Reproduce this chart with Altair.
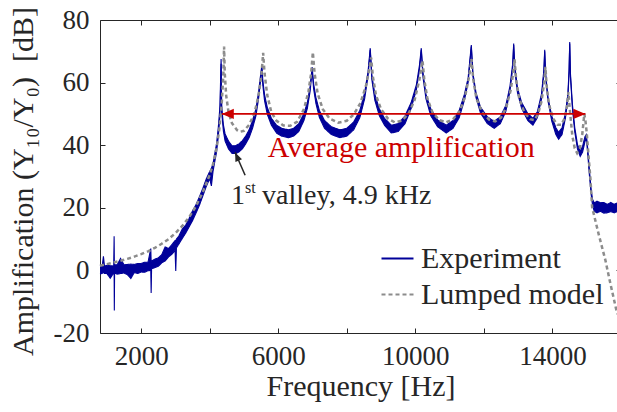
import altair as alt
import pandas as pd

FONT = "Liberation Serif"
TXT = "#262626"
NAVY = "#000099"
GRAY = "#8c8c8c"
RED = "#cc0000"

# ---------------- data ----------------
exp_freq = [800, 870, 900, 930, 1000, 1100, 1200, 1212, 1218, 1226,
            1300, 1400, 1500, 1600, 1700, 1800, 1900, 2000, 2100, 2200,
            2282, 2292, 2305, 2400, 2500, 2600, 2700, 2800, 2900, 2990,
            3010, 3030, 3100, 3200, 3300, 3400, 3500, 3600, 3700, 3800,
            3900, 4000, 4050, 4100, 4200, 4250, 4300, 4333, 4350, 4400,
            4450, 4550, 4650, 4750, 4850, 4950, 5050, 5150, 5250, 5350,
            5430, 5490, 5521, 5550, 5600, 5680, 5800, 5950, 6100, 6300,
            6450, 6600, 6750, 6850, 6930, 6990, 7030, 7100, 7200, 7350,
            7550, 7800, 8000, 8200, 8380, 8520, 8620, 8684, 8730, 8820,
            8950, 9100, 9300, 9500, 9700, 9880, 10030, 10120, 10173, 10220,
            10310, 10450, 10650, 10900, 11100, 11280, 11430, 11540, 11633, 11680,
            11770, 11900, 12100, 12300, 12480, 12640, 12760, 12840, 12869, 12900,
            12980, 13100, 13280, 13430, 13560, 13680, 13750, 13774, 13800, 13870,
            13980, 14100, 14180, 14280, 14380, 14450, 14485, 14504, 14525, 14580,
            14650, 14730, 14810, 14880, 14950, 14990, 15030, 15080, 15130, 15170,
            15220, 15300, 15400, 15500, 15600, 15700, 15800, 15900, 16000]
exp_lo = [-1.2, -0.9, -0.6, -1.0, -1.0, -2.5, -0.8, -0.8, -12.8, -0.8,
          -1.2, -1.0, -0.8, -1.4, -2.6, -0.7, -1.0, -0.5, -0.6, -0.1,
          0.0, -7.2, 0.5, 0.9, 1.3, 2.4, 3.0, 4.3, 5.2, 6.4,
          -0.2, 7.2, 8.4, 10.2, 11.9, 13.9, 15.9, 18.3, 20.8, 23.8,
          26.8, 29.3, 27.0, 31.8, 37.8, 42.5, 49.5, 66.0, 50.5, 44.5,
          41.3, 38.8, 37.4, 37.3, 37.8, 38.8, 40.4, 42.4, 45.4, 49.4,
          55.2, 61.2, 64.5, 59.2, 54.3, 49.9, 46.4, 43.9, 42.9, 42.4,
          42.9, 44.4, 47.9, 51.8, 57.2, 64.0, 58.2, 53.3, 48.9, 45.4,
          43.4, 42.4, 42.9, 44.9, 48.8, 54.8, 62.0, 70.5, 61.0, 54.3,
          49.4, 46.4, 43.9, 44.4, 46.9, 51.8, 57.7, 64.0, 70.5, 62.0,
          54.8, 49.4, 45.9, 43.9, 45.4, 48.8, 54.3, 60.0, 71.5, 62.0,
          55.2, 50.3, 46.9, 45.4, 46.9, 50.8, 57.2, 64.5, 72.0, 64.0,
          56.8, 51.8, 47.9, 46.4, 48.8, 54.7, 63.0, 70.0, 62.0, 54.2,
          47.7, 43.4, 41.9, 43.4, 48.7, 55.2, 63.0, 72.5, 62.0, 52.2,
          44.3, 38.8, 36.4, 37.8, 41.2, 42.1, 37.2, 30.2, 24.2, 20.8,
          18.9, 18.4, 18.9, 18.3, 18.4, 18.8, 18.4, 18.8, 18.4]
exp_hi = [1.3, 1.8, 4.5, 1.4, 1.6, 1.5, 1.4, 10.9, 1.4, 1.8,
          1.8, 3.8, 1.8, 1.9, 2.0, 1.9, 2.2, 2.2, 2.6, 2.6,
          7.0, 2.8, 3.0, 3.6, 4.0, 5.0, 7.5, 7.0, 8.3, 9.5,
          9.5, 10.0, 11.0, 13.2, 14.5, 16.6, 19.0, 21.0, 23.5, 26.2,
          29.2, 31.6, 32.6, 34.2, 40.5, 45.5, 52.5, 67.5, 52.5, 46.5,
          43.6, 41.3, 39.8, 39.8, 40.4, 41.4, 42.9, 44.9, 47.9, 51.6,
          57.3, 62.8, 65.5, 60.8, 56.2, 52.1, 48.6, 46.4, 45.4, 44.9,
          45.4, 46.9, 50.1, 53.7, 58.8, 65.0, 59.8, 55.2, 51.1, 47.9,
          45.9, 44.9, 45.4, 47.4, 51.1, 56.7, 63.5, 71.0, 62.5, 56.2,
          51.6, 48.6, 46.4, 46.9, 49.4, 53.7, 59.3, 65.5, 71.0, 63.5,
          56.2, 51.6, 48.1, 46.4, 47.9, 51.1, 56.2, 61.5, 72.0, 63.0,
          56.8, 52.2, 49.1, 47.6, 49.1, 52.7, 58.8, 66.0, 72.5, 65.5,
          58.3, 53.7, 50.1, 48.6, 50.7, 56.3, 64.0, 70.5, 63.0, 55.3,
          49.3, 45.6, 44.1, 45.6, 50.3, 56.3, 64.0, 73.0, 63.0, 53.3,
          45.7, 40.2, 38.1, 39.7, 42.8, 43.4, 38.8, 31.8, 25.8, 22.7,
          21.6, 22.1, 21.6, 21.7, 21.1, 21.7, 21.1, 21.6, 21.1]

model_freq = [800, 1000, 1200, 1400, 1600, 1800, 2000, 2200, 2400, 2600,
              2800, 3000, 3200, 3400, 3600, 3800, 4000, 4100, 4200, 4280,
              4350, 4400, 4420, 4440, 4480, 4550, 4650, 4800, 4888, 5000,
              5150, 5300, 5420, 5510, 5560, 5600, 5680, 5800, 5950, 6150,
              6350, 6550, 6750, 6880, 6960, 7010, 7060, 7150, 7300, 7500,
              7750, 8000, 8200, 8400, 8560, 8660, 8710, 8760, 8850, 9000,
              9200, 9400, 9600, 9800, 9980, 10120, 10210, 10260, 10350, 10500,
              10700, 10900, 11100, 11300, 11450, 11570, 11640, 11690, 11780, 11950,
              12150, 12330, 12500, 12650, 12780, 12860, 12895, 12940, 13030, 13180,
              13350, 13470, 13580, 13680, 13760, 13795, 13830, 13900, 14020, 14150,
              14250, 14350, 14420, 14466, 14510, 14580, 14650, 14720, 14800, 14870,
              14930, 14960, 15000, 15050, 15110, 15157, 15350, 15546, 15692, 15867,
              15900]
model_db = [1.5, 2.0, 2.5, 3.1, 3.7, 4.4, 5.2, 6.1, 7.2, 8.5,
            10.0, 11.9, 14.2, 17.0, 20.5, 25.0, 30.5, 34.0, 39.0, 45.0,
            53.0, 63.0, 71.5, 63.0, 56.0, 50.5, 47.0, 44.8, 44.3, 44.6,
            46.5, 50.0, 55.5, 62.5, 69.5, 63.0, 56.0, 50.5, 47.8, 46.3,
            46.2, 47.5, 51.5, 57.0, 63.0, 69.7, 63.0, 56.5, 51.5, 48.5,
            47.2, 47.8, 49.8, 53.5, 59.0, 64.5, 68.0, 62.0, 56.0, 51.5,
            48.5, 47.3, 47.8, 50.0, 54.5, 61.0, 67.0, 61.0, 55.0, 50.5,
            48.0, 47.3, 48.3, 51.0, 55.5, 62.0, 67.5, 61.0, 55.0, 50.5,
            48.2, 47.6, 48.8, 52.0, 57.5, 63.5, 67.5, 61.0, 55.0, 50.5,
            48.3, 48.0, 50.0, 54.0, 60.0, 65.0, 59.0, 53.0, 48.5, 46.5,
            46.5, 48.5, 52.0, 57.0, 51.0, 43.0, 39.0, 37.5, 39.0, 43.5,
            50.0, 48.0, 44.0, 37.0, 29.0, 20.2, 11.5, 3.2, -4.3, -12.8,
            -14.0]

series_names = ["Experiment", "Lumped model"]
x_ticks = [2000, 4000, 6000, 8000, 10000, 12000, 14000]
y_ticks = [-20, 0, 20, 40, 60, 80]

# annotations (data coordinates)
arrow_from, arrow_to, arrow_level = 4354, 14962, 50
avg_label = "Average amplification"
avg_pos = (9589, 36.1)
valley_tip = (4742, 37.7)
valley_tail = (5034, 30.4)
valley_text_pos = (4625, 21.3)

# ---------------- frames ----------------
exp_df = pd.DataFrame({"freq": exp_freq, "lo": exp_lo, "hi": exp_hi})
exp_long = pd.concat([
    pd.DataFrame({"freq": exp_freq, "db": exp_lo, "edge": "lo", "series": series_names[0]}),
    pd.DataFrame({"freq": exp_freq, "db": exp_hi, "edge": "hi", "series": series_names[0]}),
])
model_df = pd.DataFrame({"freq": model_freq, "db": model_db, "series": series_names[1]})

xs = alt.Scale(domain=[800, 16000], nice=False, zero=False)
ys = alt.Scale(domain=[-20, 80], nice=False, zero=False)

color_scale = alt.Scale(domain=series_names, range=[NAVY, GRAY])
dash_scale = alt.Scale(domain=series_names, range=[[1, 0], [4, 3]])
legend = alt.Legend(title=None, orient="none", legendX=280, legendY=221,
                    symbolType="stroke", symbolSize=1024, symbolStrokeWidth=2.2,
                    labelFont=FONT, labelFontSize=30, labelColor=TXT, labelLimit=0,
                    labelOffset=6, rowPadding=3, padding=0)

common = dict(labelFont=FONT, labelFontSize=27, labelColor=TXT,
              titleFont=FONT, titleFontSize=30, titleColor=TXT, titleFontWeight="normal",
              tickColor=TXT, tickWidth=1, tickSize=5, domain=False, grid=False)

x_bottom = alt.Axis(orient="bottom", offset=-5, values=x_ticks,
                    labelExpr="datum.value % 4000 == 2000 ? datum.value + '' : ''",
                    labelBaseline="alphabetic", labelPadding=31, labelFlush=False,
                    labelOverlap=False, title="Frequency [Hz]",
                    titleBaseline="alphabetic", titleY=67, **common)
y_left = alt.Axis(orient="left", offset=-5, values=y_ticks,
                  labelExpr="datum.value + ''", labelPadding=11, labelOverlap=False,
                  title="Amplification (Y\u2081\u2080/Y\u2080)\u00a0 [dB]",
                  titleX=-73, titleY=161, titleBaseline="alphabetic", **common)
x_top = alt.Axis(orient="top", offset=-5, values=x_ticks, labels=False, title=None, **common)
y_right = alt.Axis(orient="right", offset=-5, values=y_ticks, labels=False, title=None, **common)

band = alt.Chart(exp_df).mark_area(color=NAVY, opacity=1).encode(
    x=alt.X("freq:Q", scale=xs, axis=x_bottom),
    y=alt.Y("lo:Q", scale=ys, axis=y_left),
    y2="hi:Q",
)

exp_lines = alt.Chart(exp_long).mark_line(strokeWidth=1.1).encode(
    x=alt.X("freq:Q", scale=xs, axis=x_top),
    y=alt.Y("db:Q", scale=ys, axis=y_right),
    color=alt.Color("series:N", scale=color_scale, legend=legend),
    strokeDash=alt.StrokeDash("series:N", scale=dash_scale, legend=legend),
    detail="edge:N",
)

model_line = alt.Chart(model_df).mark_line(strokeWidth=2.5).encode(
    x=alt.X("freq:Q", scale=xs, axis=None),
    y=alt.Y("db:Q", scale=ys, axis=None),
    color=alt.Color("series:N", scale=color_scale, legend=legend),
    strokeDash=alt.StrokeDash("series:N", scale=dash_scale, legend=legend),
)

red_df = pd.DataFrame({"x": [arrow_from], "x2": [arrow_to], "y": [arrow_level]})
red_rule = alt.Chart(red_df).mark_rule(color=RED, strokeWidth=1.6).encode(
    x=alt.X("x:Q", scale=xs, axis=None), x2="x2:Q",
    y=alt.Y("y:Q", scale=ys, axis=None),
)

HEAD = "M 0 0 L 4 -1.7 L 4 1.7 Z"
red_heads_df = pd.DataFrame({"x": [arrow_from, arrow_to], "y": [arrow_level, arrow_level],
                             "ang": [0, 180]})
red_heads = alt.Chart(red_heads_df).mark_point(
    shape=HEAD, filled=True, size=36, color=RED, opacity=1, strokeWidth=0
).encode(
    x=alt.X("x:Q", scale=xs, axis=None),
    y=alt.Y("y:Q", scale=ys, axis=None),
    angle=alt.Angle("ang:Q", scale=None),
)

avg_df = pd.DataFrame({"x": [avg_pos[0]], "y": [avg_pos[1]], "t": [avg_label]})
avg_text = alt.Chart(avg_df).mark_text(
    font=FONT, fontSize=30, color=RED, align="center", baseline="alphabetic"
).encode(x=alt.X("x:Q", scale=xs, axis=None), y=alt.Y("y:Q", scale=ys, axis=None), text="t:N")

blk_df = pd.DataFrame({"x": [valley_tail[0]], "y": [valley_tail[1]],
                       "x2": [valley_tip[0]], "y2": [valley_tip[1]]})
blk_rule = alt.Chart(blk_df).mark_rule(color=TXT, strokeWidth=1.5).encode(
    x=alt.X("x:Q", scale=xs, axis=None), x2="x2:Q",
    y=alt.Y("y:Q", scale=ys, axis=None), y2="y2:Q",
)
blk_head_df = pd.DataFrame({"x": [valley_tip[0]], "y": [valley_tip[1]], "ang": [66.3]})
blk_head = alt.Chart(blk_head_df).mark_point(
    shape="M 0 0 L 4 -1.6 L 4 1.6 Z", filled=True, size=20, color=TXT, opacity=1, strokeWidth=0
).encode(
    x=alt.X("x:Q", scale=xs, axis=None),
    y=alt.Y("y:Q", scale=ys, axis=None),
    angle=alt.Angle("ang:Q", scale=None),
)

vt_df = pd.DataFrame({"x": [valley_text_pos[0]], "y": [valley_text_pos[1]]})
def vtext(txt, size, dx, dy):
    return alt.Chart(vt_df).mark_text(
        text=txt, font=FONT, fontSize=size, color=TXT, align="left",
        baseline="alphabetic", dx=dx, dy=dy
    ).encode(x=alt.X("x:Q", scale=xs, axis=None), y=alt.Y("y:Q", scale=ys, axis=None))

t1 = vtext("1", 28, 0, 0)
t2 = vtext("st", 16, 14, -11)
t3 = vtext("valley, 4.9 kHz", 28, 31, 0)

chart = alt.layer(
    band, exp_lines, model_line, red_rule, red_heads, avg_text,
    blk_rule, blk_head, t1, t2, t3
).resolve_axis(x="independent", y="independent").properties(
    width=521, height=313,
    autosize=alt.AutoSizeParams(type="none"),
    padding={"left": 100, "top": 20, "right": -4, "bottom": 79},
    background="white",
).configure_view(stroke=TXT, strokeWidth=1).configure_axis(
    grid=False, domain=False, tickColor=TXT, tickWidth=1, tickSize=5,
    labelFont=FONT, labelFontSize=27, labelColor=TXT,
    titleFont=FONT, titleFontSize=30, titleColor=TXT, titleFontWeight="normal",
)

chart.save("out.html", embed_options={"renderer": "svg", "actions": False})
